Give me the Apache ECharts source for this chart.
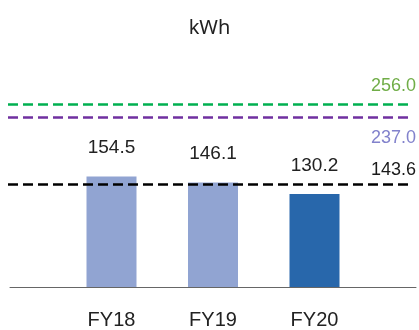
<!DOCTYPE html>
<html>
<head>
<meta charset="utf-8">
<script src="https://cdn.jsdelivr.net/npm/echarts@6/dist/echarts.min.js"></script>
<style>html,body{margin:0;padding:0;background:#fff;}#c{width:419px;height:330px;}</style>
</head>
<body>
<div id="c"></div>
<script>
const categories = ['FY18', 'FY19', 'FY20'];
const values = [154.5, 146.1, 130.2];
const refValues = [256.0, 237.0, 143.6];
const refLabels = ['256.0', '237.0', '143.6'];

const barColors = ['#91A4D2', '#91A4D2', '#2867AB'];
const refLineColors = ['#00B050', '#7030A0', '#000000'];
const refLabelColors = ['#70AD47', '#8282CC', '#1a1a1a'];
const refLabelPos = ['insideEndTop', 'insideEndBottom', 'insideEndTop'];
const refLabelDist = [[-5, 9], [-5, 11], [-5, 5]];

const FONT = '"Liberation Sans", Arial, sans-serif';
const YMAX = 300;

const xCats = [''].concat(categories, ['']);
const barData = [null].concat(values.map((v, i) => ({ value: v, itemStyle: { color: barColors[i] } })), [null]);

const chart = echarts.init(document.getElementById('c'), null, { renderer: 'canvas' });
chart.setOption({
  animation: false,
  title: {
    text: 'kWh', left: 'center', top: 13,
    textStyle: { fontFamily: '"Noto Sans", sans-serif', fontSize: 20, fontWeight: 'normal', color: '#222' }
  },
  grid: [
    { left: 10, right: 2, top: 72.5, bottom: 43 },
    { left: 8, right: 8, top: 72.5, bottom: 43 }
  ],
  xAxis: [
    {
      type: 'category', gridIndex: 0, data: xCats, boundaryGap: false,
      axisTick: { show: false },
      axisLine: { lineStyle: { color: '#666', width: 1 } },
      axisLabel: { margin: 23, fontFamily: FONT, fontSize: 20, color: '#222', interval: 0 },
      splitLine: { show: false }
    },
    { type: 'value', gridIndex: 1, min: 0, max: 1, show: false }
  ],
  yAxis: [
    { type: 'value', gridIndex: 0, min: 0, max: YMAX, show: false, splitLine: { show: false } },
    { type: 'value', gridIndex: 1, min: 0, max: YMAX, show: false, splitLine: { show: false } }
  ],
  series: [
    {
      type: 'bar', xAxisIndex: 0, yAxisIndex: 0, data: barData, barWidth: 50,
      label: {
        show: true, position: 'top', distance: 19,
        fontFamily: FONT, fontSize: 19, color: '#222',
        formatter: p => p.value == null ? '' : p.value.toFixed(1)
      }
    },
    {
      type: 'line', xAxisIndex: 1, yAxisIndex: 1, data: [],
      markLine: {
        silent: true, symbol: ['none', 'none'],
        data: refValues.map((v, i) => ({
          yAxis: v,
          lineStyle: { color: refLineColors[i], type: [10, 5], width: 2.6 },
          label: {
            show: true, position: refLabelPos[i], distance: refLabelDist[i],
            formatter: refLabels[i], color: refLabelColors[i],
            fontFamily: FONT, fontSize: 18
          }
        }))
      }
    }
  ]
});
</script>
</body>
</html>
